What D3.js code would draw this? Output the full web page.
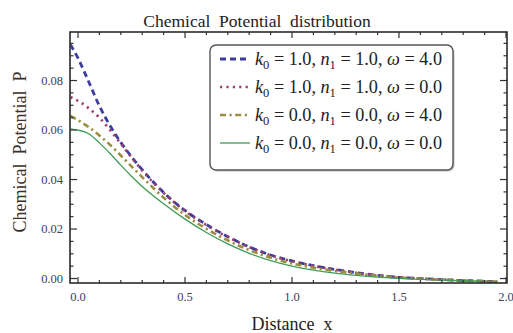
<!DOCTYPE html>
<html>
<head>
<meta charset="utf-8">
<script src="https://cdn.jsdelivr.net/npm/d3@7"></script>
<style>
  html, body { margin: 0; padding: 0; background: #fff; }
  svg { display: block; }
  text { font-family: "Liberation Serif", "DejaVu Serif", serif; }
</style>
</head>
<body>
<svg id="chart" width="513" height="333"></svg>
<script>
// Sampled distance values (x) and chemical potential P for each parameter set
const xs = [-0.035, 0, 0.05, 0.1, 0.15, 0.2, 0.25, 0.3, 0.4, 0.5, 0.6, 0.7, 0.8, 0.9, 1.0,
            1.1, 1.2, 1.3, 1.4, 1.5, 1.6, 1.7, 1.8, 1.9, 1.96];
const pBlue   = [0.0945, 0.0890, 0.0795, 0.0697, 0.0617, 0.0550, 0.0492, 0.0440, 0.0348, 0.0275,
                 0.0218, 0.0169, 0.0128, 0.0095, 0.0071, 0.0052, 0.0037, 0.0024, 0.0013, 0.0005,
                 0.0000, -0.0004, -0.0008, -0.0011, -0.0013];
const pPurple = [0.0733, 0.0718, 0.0688, 0.0650, 0.0600, 0.0545, 0.0490, 0.0437, 0.0346, 0.0273,
                 0.0216, 0.0168, 0.0127, 0.0094, 0.0070, 0.0051, 0.0036, 0.0023, 0.0013, 0.0005,
                 0.0000, -0.0004, -0.0008, -0.0011, -0.0013];
const pOlive  = [0.0657, 0.0640, 0.0612, 0.0578, 0.0540, 0.0497, 0.0453, 0.0410, 0.0327, 0.0257,
                 0.0201, 0.0154, 0.0115, 0.0084, 0.0061, 0.0044, 0.0031, 0.0020, 0.0011, 0.0004,
                 -0.0001, -0.0005, -0.0008, -0.0011, -0.0013];
const pGreen  = [0.0605, 0.0600, 0.0585, 0.0548, 0.0505, 0.0458, 0.0413, 0.0372, 0.0302, 0.0240,
                 0.0186, 0.0140, 0.0102, 0.0072, 0.0050, 0.0034, 0.0022, 0.0013, 0.0006, 0.0001,
                 -0.0003, -0.0006, -0.0009, -0.0011, -0.0013];

const seriesLabels = [
  {k0: "1.0", n1: "1.0", w: "4.0"},
  {k0: "1.0", n1: "1.0", w: "0.0"},
  {k0: "0.0", n1: "0.0", w: "4.0"},
  {k0: "0.0", n1: "0.0", w: "0.0"}
];
const xTicks = [0, 0.5, 1.0, 1.5, 2.0];
const yTicks = [0, 0.02, 0.04, 0.06, 0.08];

const titleText = "Chemical\u00a0\u00a0Potential\u00a0\u00a0distribution";
const xLabelText = "Distance\u00a0\u00a0x";
const yLabelText = "Chemical\u00a0\u00a0Potential\u00a0\u00a0P";

const series = [
  {values: pBlue,   color: "#3d3d9c", width: 2.8, dash: "6,4"},
  {values: pPurple, color: "#9c3d6e", width: 2.6, dash: "2.2,4.2"},
  {values: pOlive,  color: "#9c8c3d", width: 2.6, dash: "6,3.5,2.2,3.5"},
  {values: pGreen,  color: "#3d9c55", width: 1.3, dash: null}
];

const svg = d3.select("#chart");
const frame = {left: 70, right: 507, top: 32, bottom: 283};

const x = d3.scaleLinear().domain([-0.0374, 2.0047]).range([frame.left, frame.right]);
const y = d3.scaleLinear().domain([-0.0018, 0.0996]).range([frame.bottom, frame.top]);

// clip the curves to the frame
svg.append("clipPath").attr("id", "clip")
  .append("rect")
  .attr("x", frame.left).attr("y", frame.top)
  .attr("width", frame.right - frame.left).attr("height", frame.bottom - frame.top);

const line = d3.line()
  .x((d, i) => x(xs[i]))
  .y(d => y(d))
  .curve(d3.curveMonotoneX);

const curves = svg.append("g").attr("clip-path", "url(#clip)");
series.forEach(s => {
  curves.append("path")
    .attr("d", line(s.values))
    .attr("fill", "none")
    .attr("stroke", s.color)
    .attr("stroke-width", s.width)
    .attr("stroke-dasharray", s.dash)
    .attr("stroke-linecap", "butt");
});

// frame ticks on all four sides, pointing inward
const tickCol = "#333";
const xMinor = d3.range(0, 2.0001, 0.1).map(v => +v.toFixed(2));
const yMinor = d3.range(0, 0.0951, 0.005).map(v => +v.toFixed(4));
const ticks = svg.append("g").attr("stroke", tickCol).attr("stroke-width", 1.2);
xMinor.forEach(v => {
  const major = xTicks.some(t => Math.abs(t - v) < 1e-6);
  const len = major ? 6 : 3;
  ticks.append("line").attr("x1", x(v)).attr("x2", x(v))
    .attr("y1", frame.bottom).attr("y2", frame.bottom - len);
  ticks.append("line").attr("x1", x(v)).attr("x2", x(v))
    .attr("y1", frame.top).attr("y2", frame.top + len);
});
yMinor.forEach(v => {
  const major = yTicks.some(t => Math.abs(t - v) < 1e-7);
  const len = major ? 7 : 3.5;
  ticks.append("line").attr("y1", y(v)).attr("y2", y(v))
    .attr("x1", frame.left).attr("x2", frame.left + len);
  ticks.append("line").attr("y1", y(v)).attr("y2", y(v))
    .attr("x1", frame.right).attr("x2", frame.right - len);
});

// frame
svg.append("rect")
  .attr("x", frame.left).attr("y", frame.top)
  .attr("width", frame.right - frame.left).attr("height", frame.bottom - frame.top)
  .attr("fill", "none").attr("stroke", "#2b2b2b").attr("stroke-width", 1.6);

// tick labels
const tickLabelCol = "#3a4258";
svg.append("g").selectAll("text").data(xTicks).join("text")
  .attr("x", d => x(d)).attr("y", 301)
  .attr("text-anchor", "middle")
  .attr("font-size", 12.5)
  .attr("fill", tickLabelCol)
  .text(d => d3.format(".1f")(d));
svg.append("g").selectAll("text").data(yTicks).join("text")
  .attr("x", 63).attr("y", d => y(d) + 4)
  .attr("text-anchor", "end")
  .attr("font-size", 12.5)
  .attr("fill", tickLabelCol)
  .text(d => d3.format(".2f")(d));

// title and axis labels
svg.append("text").attr("x", 257).attr("y", 27)
  .attr("text-anchor", "middle").attr("font-size", 17.5).attr("fill", "#222")
  .text(titleText);
svg.append("text").attr("x", 292).attr("y", 330)
  .attr("text-anchor", "middle").attr("font-size", 18).attr("fill", "#222")
  .text(xLabelText);
svg.append("text")
  .attr("transform", "translate(26,152) rotate(-90)")
  .attr("text-anchor", "middle").attr("font-size", 18).attr("fill", "#3a2f2a")
  .text(yLabelText);

// legend
const lg = {x: 210, y: 45, w: 243, h: 125};
svg.append("rect")
  .attr("x", lg.x + 1.5).attr("y", lg.y + 1.5).attr("width", lg.w).attr("height", lg.h)
  .attr("rx", 6).attr("fill", "#999").attr("opacity", 0.6);
svg.append("rect")
  .attr("x", lg.x).attr("y", lg.y).attr("width", lg.w).attr("height", lg.h)
  .attr("rx", 6).attr("fill", "#fff").attr("stroke", "#555").attr("stroke-width", 1.4);

const rowY = [59, 87, 115, 143];
series.forEach((s, i) => {
  const g = svg.append("g");
  g.append("line")
    .attr("x1", 220).attr("x2", 250).attr("y1", rowY[i]).attr("y2", rowY[i])
    .attr("stroke", s.color).attr("stroke-width", s.width)
    .attr("stroke-dasharray", s.dash);
  const lab = seriesLabels[i];
  const t = g.append("text").attr("x", 255).attr("y", rowY[i] + 5.5)
    .attr("font-size", 18.2).attr("fill", "#222");
  t.append("tspan").attr("font-style", "italic").text("k");
  t.append("tspan").attr("font-size", 12.5).attr("dy", 4).text("0");
  t.append("tspan").attr("dy", -4).text(" = " + lab.k0 + ", ");
  t.append("tspan").attr("font-style", "italic").text("n");
  t.append("tspan").attr("font-size", 12.5).attr("dy", 4).text("1");
  t.append("tspan").attr("dy", -4).text(" = " + lab.n1 + ", ");
  t.append("tspan").attr("font-style", "italic").text("\u03c9");
  t.append("tspan").text(" = " + lab.w);
});
</script>
</body>
</html>
